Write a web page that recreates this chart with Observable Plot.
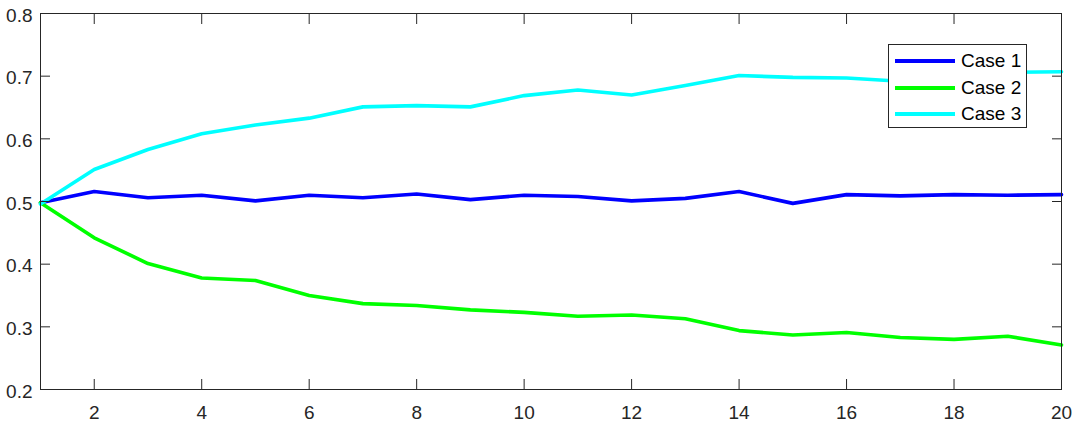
<!DOCTYPE html>
<html>
<head>
<meta charset="utf-8">
<script src="https://cdn.jsdelivr.net/npm/d3@7"></script>
<script src="https://cdn.jsdelivr.net/npm/@observablehq/plot@0.6"></script>
<style>
  html, body { margin: 0; padding: 0; background: #fff; }
  #wrap { position: relative; width: 1075px; height: 424px; font-family: "Liberation Sans", Arial, sans-serif; }
  #legend { position: absolute; left: 888px; top: 44px; width: 139px; height: 84px; background: #fff; border: 1px solid #262626; box-sizing: border-box; }
  .item { position: absolute; left: 6px; height: 22px; display: flex; align-items: center; font-size: 19px; color: #000; }
  .sw { width: 60px; height: 4px; margin-right: 6px; }
</style>
</head>
<body>
<div id="wrap"></div>
<script>
const steps = [1,2,3,4,5,6,7,8,9,10,11,12,13,14,15,16,17,18,19,20];
const case1 = [0.498,0.516,0.506,0.510,0.501,0.510,0.506,0.512,0.503,0.510,0.508,0.501,0.505,0.516,0.497,0.511,0.509,0.511,0.510,0.511];
const case2 = [0.498,0.442,0.401,0.378,0.374,0.350,0.337,0.334,0.327,0.323,0.317,0.319,0.313,0.294,0.287,0.291,0.283,0.280,0.285,0.271];
const case3 = [0.496,0.551,0.583,0.608,0.622,0.633,0.651,0.653,0.651,0.669,0.678,0.670,0.685,0.701,0.698,0.697,0.692,0.700,0.706,0.707];
const seriesNames = ["Case 1","Case 2","Case 3"];
const seriesColors = ["#0000ff","#00ff00","#00ffff"];
const xTicks = [2,4,6,8,10,12,14,16,18,20];
const yTicks = [0.2,0.3,0.4,0.5,0.6,0.7,0.8];

const table = [];
[case1, case2, case3].forEach((arr, s) => arr.forEach((v, i) => table.push({step: steps[i], value: v, series: seriesNames[s]})));

const axisColor = "#262626";
const chart = Plot.plot({
  width: 1075,
  height: 424,
  marginLeft: 40,
  marginRight: 14,
  marginTop: 13,
  marginBottom: 35,
  style: {fontFamily: '"Liberation Sans", Arial, sans-serif', fontSize: "19px", color: axisColor, background: "#fff"},
  x: {domain: [1, 20]},
  y: {domain: [0.2, 0.8]},
  color: {domain: seriesNames, range: seriesColors},
  marks: [
    Plot.line(table, {x: "step", y: "value", stroke: "series", strokeWidth: 3.6}),
    Plot.frame({stroke: axisColor, strokeWidth: 1}),
    // tick labels
    Plot.axisX(xTicks, {anchor: "bottom", tickSize: 0, tickPadding: 16, label: null, fill: "#262626"}),
    Plot.axisY(yTicks, {anchor: "left", tickSize: 0, tickPadding: 8, label: null, tickFormat: d3.format(".1f"), dy: 2, fill: "#262626"}),
    // inward ticks
    Plot.axisX(xTicks, {anchor: "bottom", tickSize: 10, dy: -10, tickFormat: () => "", label: null, stroke: axisColor}),
    Plot.axisX(xTicks, {anchor: "top", tickSize: 10, dy: 10, tickFormat: () => "", label: null, stroke: axisColor}),
    Plot.axisY(yTicks, {anchor: "left", tickSize: 10, dx: 10, tickFormat: () => "", label: null, stroke: axisColor}),
    Plot.axisY(yTicks, {anchor: "right", tickSize: 10, dx: -10, tickFormat: () => "", label: null, stroke: axisColor})
  ]
});
const wrap = document.getElementById("wrap");
wrap.appendChild(chart);

const legend = document.createElement("div");
legend.id = "legend";
seriesNames.forEach((name, i) => {
  const item = document.createElement("div");
  item.className = "item";
  item.style.top = (5 + i * 26.5) + "px";
  const sw = document.createElement("div");
  sw.className = "sw";
  sw.style.background = seriesColors[i];
  const t = document.createElement("span");
  t.textContent = name;
  item.appendChild(sw);
  item.appendChild(t);
  legend.appendChild(item);
});
wrap.appendChild(legend);
</script>
</body>
</html>
